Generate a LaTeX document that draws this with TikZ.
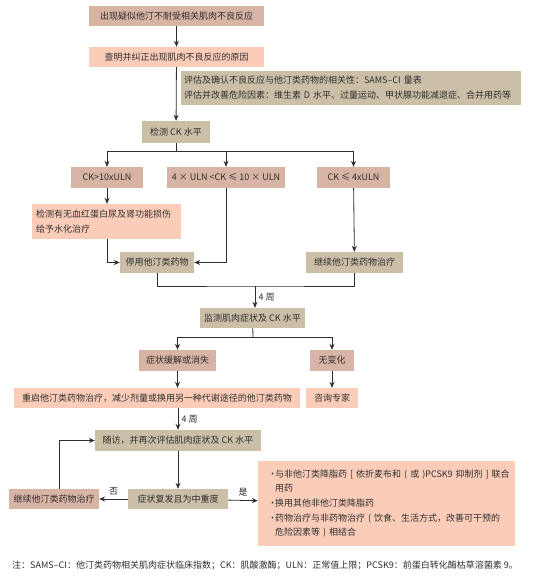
\documentclass[tikz,border=0pt]{standalone}
\usepackage{fontspec}
\setmainfont{Noto Sans CJK SC}
\usetikzlibrary{arrows.meta}
\definecolor{rosefill}{HTML}{D8B4A5}
\definecolor{salmonfill}{HTML}{FBCDB9}
\definecolor{khakifill}{HTML}{CBBFA8}
\definecolor{ink}{HTML}{2E2E2E}
\newcommand{\bl}{\makebox[0.8em][l]{·}}

\begin{document}
\begin{tikzpicture}[
    x=1pt, y=-1pt,
    >={Stealth[length=6pt,width=5pt]},
    every node/.style={font=\fontsize{9}{15}\selectfont, text=ink}
  ]

  \tikzset{
    rose/.style={fill=rosefill, inner sep=0pt, minimum height=20},
    salmon/.style={fill=salmonfill, inner sep=0pt, minimum height=20},
    khaki/.style={fill=khakifill, inner sep=0pt, minimum height=21},
    line/.style={draw=ink, line width=0.8pt},
    seta/.style={line, ->}
  }

  \useasboundingbox (0,0) rectangle (551,576);

  % Inicio
  \node[rose, minimum width=175] (A) at (176.5,16) {出现疑似他汀不耐受相关肌肉不良反应};
  \node[salmon, minimum width=175] (B) at (176.5,57) {查明并纠正出现肌肉不良反应的原因};
  \node[khaki, minimum height=34, text width=334, inner sep=3pt, align=left] (E) at (351,88)
    {评估及确认不良反应与他汀类药物的相关性：SAMS–CI 量表\\评估并改善危险因素：维生素 D 水平、过量运动、甲状腺功能减退症、合并用药等};
  \node[khaki, minimum width=68, minimum height=22] (C) at (176,132) {检测 CK 水平};

  \draw[seta] (A) -- (B);
  \draw[seta] (B) -- (C);

  % Niveis de CK
  \node[rose, minimum width=72, minimum height=21] (C1) at (107,177.5) {CK>10xULN};
  \node[rose, minimum width=118, minimum height=21] (C2) at (226,177.5) {4 × ULN <CK ≤ 10 × ULN};
  \node[rose, minimum width=73, minimum height=21] (C3) at (353.5,177.5) {CK ≤ 4xULN};

  \coordinate (J1) at (176,151);
  \draw[line] (C) -- (J1);
  \draw[seta] (J1) -| (C1);
  \draw[seta] (J1) -| (C3);
  \draw[seta] (C2 |- J1) -- (C2);

  \node[salmon, minimum height=35, text width=141, inner sep=4pt, align=left] (H) at (106.5,221.5)
    {检测有无血红蛋白尿及肾功能损伤\\给予水化治疗};
  \node[khaki, minimum width=74] (S) at (157,262.5) {停用他汀类药物};
  \node[khaki, minimum width=97] (K) at (354.5,262.5) {继续他汀类药物治疗};

  \draw[seta] (C1) -- (C1 |- H.north);
  \draw[seta] (H.south -| C1) |- (S);
  \draw[seta] (C2) |- (S);
  \draw[seta] (C3) -- (K);

  % Apos 4 semanas
  \node[khaki, minimum width=105, minimum height=20] (M) at (252.5,318) {监测肌肉症状及 CK 水平};
  \coordinate (J2) at (255,286);
  \draw[line] (S) |- (J2) -| (K);
  \draw[seta] (J2) -- (J2 |- M.north) node[midway, right] {4 周};

  \node[rose, minimum width=77, minimum height=21] (R) at (177.5,360.5) {症状缓解或消失};
  \node[rose, minimum width=44, minimum height=21] (N) at (332,360.5) {无变化};
  \coordinate (J3) at (253,337);
  \draw[line] (M) -- (J3);
  \draw[seta] (J3) -| (R);
  \draw[seta] (J3) -| (N);

  \node[salmon, minimum width=286] (Q) at (157,398) {重启他汀类药物治疗，减少剂量或换用另一种代谢途径的他汀类药物};
  \node[salmon, minimum width=52] (X) at (332,398) {咨询专家};
  \draw[seta] (R) -- (R |- Q.north);
  \draw[seta] (N) -- (X);

  % Seguimento
  \node[khaki, minimum width=166] (F) at (178,440.5) {随访，并再次评估肌肉症状及 CK 水平};
  \draw[seta] (Q.south -| F) -- (F) node[midway, right] {4 周};

  \node[khaki, minimum width=100, minimum height=20] (D) at (178,499) {症状复发且为中重度};
  \node[rose, minimum width=90] (L) at (54,499) {继续他汀类药物治疗};
  \node[salmon, minimum height=85, text width=249, inner sep=4pt, align=left,
        font=\fontsize{9}{14.6}\selectfont] (T) at (386.5,503.5)
    {\hspace*{6pt}\bl 与非他汀类降脂药 [ 依折麦布和 ( 或 )PCSK9 抑制剂 ] 联合\\
     \hspace*{6pt}\hspace*{0.8em}用药\\
     \hspace*{6pt}\bl 换用其他非他汀类降脂药\\
     \hspace*{6pt}\bl 药物治疗与非药物治疗 ( 饮食、生活方式，改善可干预的\\
     \hspace*{6pt}\hspace*{0.8em}危险因素等 ) 相结合};

  \draw[seta] (F) -- (D);
  \draw[seta] (D) -- (L) node[midway, above] {否};
  \draw[seta] (D) -- (T) node[midway, above] {是};
  \draw[seta] ([xshift=5]L.north) |- (F);

  % Nota
  \node[anchor=west, inner sep=0pt] (nota) at (12,565)
    {注：SAMS–CI：他汀类药物相关肌肉症状临床指数；CK：肌酸激酶；ULN：正常值上限；PCSK9：前蛋白转化酶枯草溶菌素 9。};

\end{tikzpicture}
\end{document}
